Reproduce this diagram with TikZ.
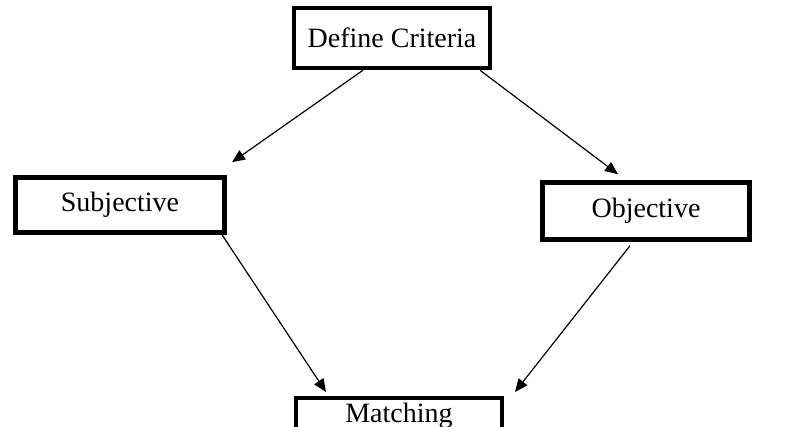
\documentclass[tikz,border=0pt]{standalone}
\usepackage{fontspec}
\setmainfont{Liberation Serif}
\usetikzlibrary{arrows.meta,positioning,calc}
\tikzset{
  >={Triangle[length=13pt,width=11pt]},
  box/.style={draw=black,line width=4.5pt,minimum height=55pt,inner sep=0pt,
              align=center,font=\fontsize{28}{32}\selectfont},
  flow/.style={->,line width=1.2pt,draw=black},
}

\begin{document}
\begin{tikzpicture}[x=1pt,y=-1pt]
  \useasboundingbox (0,0) rectangle (796,427);
  \node[box,minimum width=196pt,minimum height=60pt] (crit) at (392,38) {Define Criteria};
  \node[box,minimum width=209pt,minimum height=55pt] (subj) at (120,205) {Subjective};
  \node[box,minimum width=207pt,minimum height=57pt] (obj) at (646,211) {Objective};
  % bottom box runs off the page
  \node[box,minimum width=206pt,minimum height=0pt,text height=24pt,text depth=36pt,
        anchor=north] (match) at (399,396) {Matching};

  \draw[flow] ([xshift=-29pt]crit.south) -- ([xshift=112pt,yshift=13pt]subj.north);
  \draw[flow] ([xshift=88pt]crit.south) -- ([xshift=-28pt,yshift=6pt]obj.north);
  \draw[flow] ([xshift=102pt]subj.south) -- ([xshift=-73pt,yshift=4pt]match.north);
  \draw[flow] ([xshift=-16pt,yshift=-4pt]obj.south) -- ([xshift=116pt,yshift=4pt]match.north);
\end{tikzpicture}
\end{document}
